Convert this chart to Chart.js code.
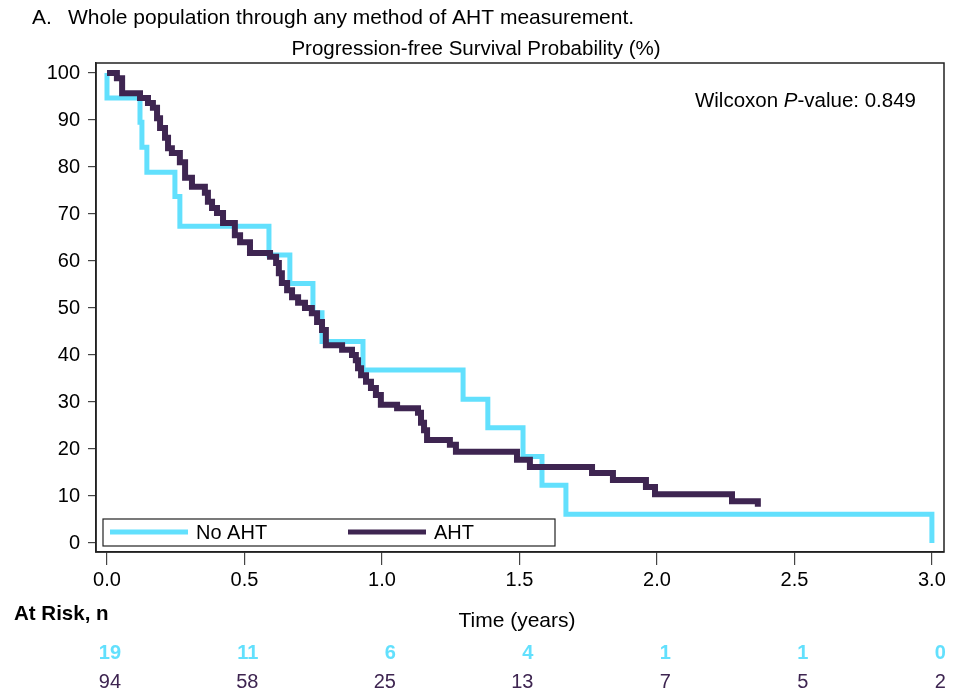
<!DOCTYPE html>
<html>
<head>
<meta charset="utf-8">
<script src="https://cdn.jsdelivr.net/npm/chart.js@4/dist/chart.umd.min.js"></script>
<style>
  html, body { margin: 0; padding: 0; background: #fff; }
  #wrap { width: 962px; height: 697px; }
</style>
</head>
<body>
<div id="wrap"><canvas id="kmChart" width="962" height="697"></canvas></div>
<script>
// Kaplan-Meier steps (time in years, survival in %)
const noAhtTimes = [0, 0, 0.12, 0.127, 0.145, 0.247, 0.265, 0.589, 0.665, 0.749, 0.782, 0.931, 1.295, 1.385, 1.513, 1.582, 1.669, 3.0];
const noAhtSurv = [100, 94.7, 89.5, 84.2, 78.9, 73.7, 67.4, 61.3, 55.2, 49.0, 42.9, 36.8, 30.6, 24.5, 18.4, 12.3, 6.1, 0];

const ahtTimes = [0, 0.036, 0.055, 0.12, 0.149, 0.167, 0.182, 0.193, 0.211, 0.222,
  0.236, 0.265, 0.284, 0.309, 0.356, 0.367, 0.382, 0.4, 0.422, 0.465,
  0.484, 0.52, 0.593, 0.615, 0.625, 0.636, 0.655, 0.673, 0.695, 0.72,
  0.745, 0.764, 0.782, 0.796, 0.855, 0.891, 0.905, 0.913, 0.924, 0.942,
  0.96, 0.978, 0.996, 1.055, 1.131, 1.142, 1.153, 1.164, 1.247, 1.269,
  1.491, 1.538, 1.764, 1.84, 1.96, 1.993, 2.273, 2.367];
const ahtSurv = [100, 98.9, 95.7, 94.7, 93.6, 92.6, 90.4, 88.3, 86.2, 84.0,
  83.0, 81.0, 77.7, 75.8, 74.5, 72.6, 71.3, 70.2, 68.1, 65.5,
  64.0, 61.7, 60.9, 59.6, 57.4, 55.3, 53.8, 52.3, 51.1, 50.0,
  48.9, 47.0, 45.3, 42.1, 41.1, 40.0, 38.9, 37.2, 35.7, 34.3,
  33.0, 31.5, 29.4, 28.7, 27.7, 25.6, 24.0, 21.9, 20.9, 19.4,
  17.7, 16.2, 14.9, 13.4, 11.9, 10.4, 8.9, 7.7];

const xTicks = [0, 0.5, 1.0, 1.5, 2.0, 2.5, 3.0];
const yTicks = [0, 10, 20, 30, 40, 50, 60, 70, 80, 90, 100];
const atRiskNoAht = [19, 11, 6, 4, 1, 1, 0];
const atRiskAht = [94, 58, 25, 13, 7, 5, 2];

const cyan = "#62e0fd";
const purple = "#3e2551";
const font = "'Liberation Sans', Arial, sans-serif";

const toPoints = (ts, ss) => ts.map((t, i) => ({ x: t, y: ss[i] }));

const decorations = {
  id: "decorations",
  afterDraw(chart) {
    const ctx = chart.ctx;
    const a = chart.chartArea;
    const xs = chart.scales.x;
    ctx.save();

    // frame
    ctx.strokeStyle = "#222";
    ctx.lineWidth = 1.5;
    ctx.strokeRect(a.left, a.top, a.right - a.left, a.bottom - a.top);

    ctx.fillStyle = "#000";
    ctx.textBaseline = "middle";
    ctx.font = "21px " + font;
    ctx.textAlign = "left";
    ctx.fillText("A.", 32, 18);
    ctx.fillText("Whole population through any method of AHT measurement.", 68, 18);

    ctx.font = "20.5px " + font;
    ctx.textAlign = "center";
    ctx.fillText("Progression-free Survival Probability (%)", 476, 49);

    // p-value, italic P
    const parts = [["Wilcoxon ", "20.5px " + font], ["P", "italic 20.5px " + font], ["-value: 0.849", "20.5px " + font]];
    let w = 0;
    parts.forEach((p) => { ctx.font = p[1]; w += ctx.measureText(p[0]).width; });
    let px = 916 - w;
    ctx.textAlign = "left";
    parts.forEach((p) => { ctx.font = p[1]; ctx.fillText(p[0], px, 101); px += ctx.measureText(p[0]).width; });

    // legend
    ctx.strokeStyle = "#222";
    ctx.lineWidth = 1.2;
    ctx.strokeRect(103, 519, 452, 27);
    ctx.lineWidth = 5;
    ctx.strokeStyle = cyan;
    ctx.beginPath(); ctx.moveTo(110, 532); ctx.lineTo(188, 532); ctx.stroke();
    ctx.strokeStyle = purple;
    ctx.beginPath(); ctx.moveTo(348, 532); ctx.lineTo(426, 532); ctx.stroke();
    ctx.font = "20px " + font;
    ctx.fillStyle = "#000";
    ctx.fillText("No AHT", 196, 533);
    ctx.fillText("AHT", 434, 533);

    // axis title and risk table
    ctx.font = "21px " + font;
    ctx.textAlign = "center";
    ctx.fillText("Time (years)", 517, 621);
    ctx.textAlign = "left";
    ctx.font = "bold 20.5px " + font;
    ctx.fillText("At Risk, n", 14, 614);

    ctx.textAlign = "right";
    xTicks.forEach((t, i) => {
      const x = xs.getPixelForValue(t) + 14;
      ctx.font = "bold 20px " + font;
      ctx.fillStyle = cyan;
      ctx.fillText(String(atRiskNoAht[i]), x, 653);
      ctx.font = "20px " + font;
      ctx.fillStyle = purple;
      ctx.fillText(String(atRiskAht[i]), x, 682);
    });
    ctx.restore();
  },
};

new Chart(document.getElementById("kmChart"), {
  type: "line",
  data: {
    datasets: [
      {
        label: "No AHT",
        data: toPoints(noAhtTimes, noAhtSurv),
        borderColor: cyan,
        borderWidth: 5,
        stepped: "before",
        pointRadius: 0,
        fill: false,
        order: 1,
      },
      {
        label: "AHT",
        data: toPoints(ahtTimes, ahtSurv),
        borderColor: purple,
        borderWidth: 6,
        stepped: "before",
        pointRadius: 0,
        fill: false,
        order: 0,
      },
    ],
  },
  options: {
    responsive: false,
    animation: false,
    layout: { padding: { left: 0, right: 18, top: 63, bottom: 0 } },
    plugins: { legend: { display: false }, tooltip: { enabled: false } },
    scales: {
      x: {
        type: "linear",
        min: -0.04,
        max: 3.044,
        afterBuildTicks: (axis) => { axis.ticks = xTicks.map((v) => ({ value: v })); },
        afterFit: (axis) => { axis.height = 145; },
        ticks: {
          callback: (v) => Number(v).toFixed(1),
          color: "#000",
          font: { family: font, size: 20 },
          padding: 3,
          maxRotation: 0,
        },
        grid: { drawOnChartArea: false, tickLength: 13, color: "#444", lineWidth: 1.2 },
        border: { display: true, color: "#222", width: 1.5 },
      },
      y: {
        min: -1.91,
        max: 102.13,
        afterBuildTicks: (axis) => { axis.ticks = yTicks.map((v) => ({ value: v })); },
        afterFit: (axis) => { axis.width = 96; },
        ticks: {
          color: "#000",
          font: { family: font, size: 20 },
          padding: 8,
        },
        grid: { drawOnChartArea: false, tickLength: 8, color: "#444", lineWidth: 1.2 },
        border: { display: true, color: "#222", width: 1.5 },
      },
    },
  },
  plugins: [decorations],
});
</script>
</body>
</html>
